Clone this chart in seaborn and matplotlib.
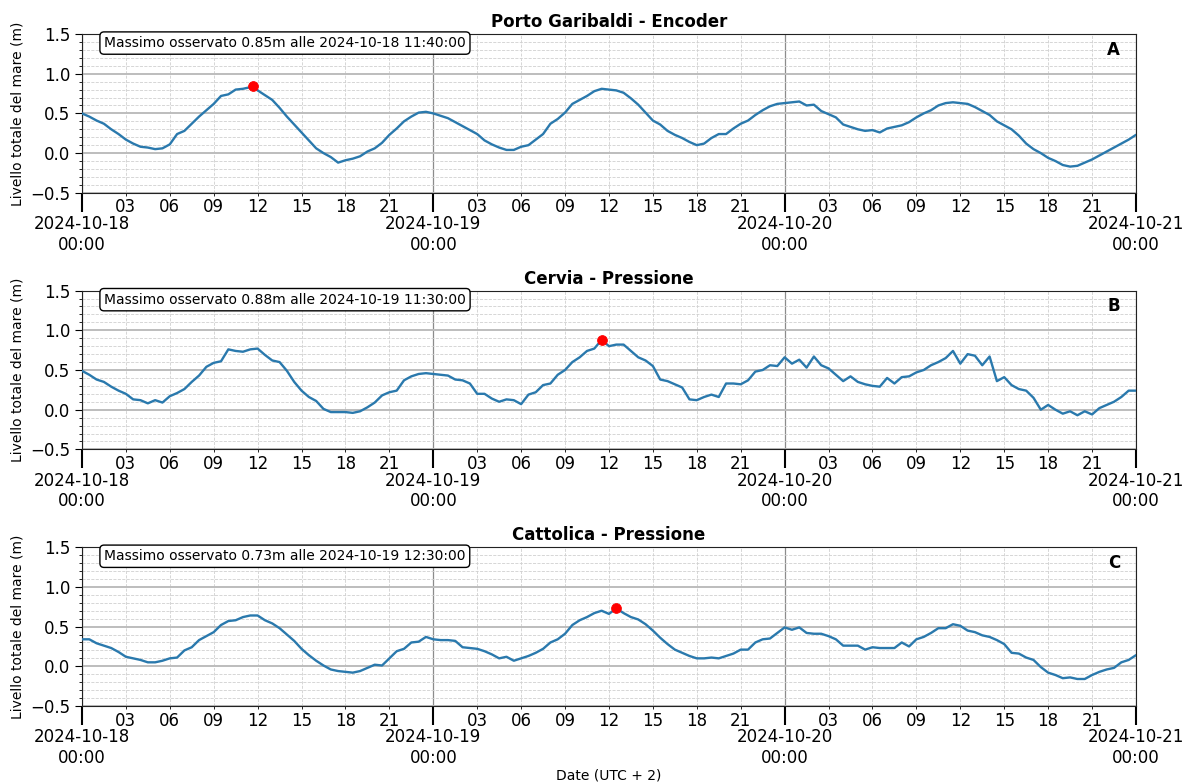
import matplotlib
matplotlib.use("Agg")
import pandas as pd
import matplotlib.pyplot as plt
import matplotlib.dates as mdates
from matplotlib.ticker import MultipleLocator
import seaborn as sns

sns.set_style("ticks")
plt.rcParams["font.family"] = ["DejaVu Sans"]
plt.rcParams.update({"text.color": "black", "axes.labelcolor": "black",
                     "xtick.color": "black", "ytick.color": "black",
                     "axes.edgecolor": "#222222"})

start = "2024-10-18 00:00"
end = "2024-10-21 00:00"

stations = ["Porto Garibaldi - Encoder", "Cervia - Pressione", "Cattolica - Pressione"]
panel_letters = ["A", "B", "C"]

# livello del mare ogni 30 minuti, dal 18/10 00:00 al 21/10 00:00 (una riga = 6 ore)
level_porto = [
    0.50, 0.46, 0.41, 0.37, 0.30, 0.24, 0.17, 0.12, 0.08, 0.07, 0.05, 0.06,
    0.11, 0.24, 0.28, 0.37, 0.46, 0.54, 0.62, 0.72, 0.74, 0.80, 0.81, 0.83,
    0.79, 0.73, 0.67, 0.57, 0.46, 0.36, 0.26, 0.16, 0.06, 0.00, -0.05, -0.12,
    -0.09, -0.07, -0.04, 0.02, 0.06, 0.13, 0.23, 0.31, 0.40, 0.46, 0.51, 0.52,
    0.50, 0.47, 0.44, 0.39, 0.34, 0.29, 0.24, 0.16, 0.11, 0.07, 0.04, 0.04,
    0.08, 0.10, 0.17, 0.24, 0.37, 0.43, 0.51, 0.62, 0.67, 0.72, 0.78, 0.81,
    0.80, 0.79, 0.76, 0.69, 0.61, 0.51, 0.41, 0.36, 0.28, 0.23, 0.19, 0.14,
    0.10, 0.12, 0.19, 0.24, 0.24, 0.31, 0.37, 0.41, 0.48, 0.54, 0.59, 0.62,
    0.63, 0.64, 0.65, 0.60, 0.61, 0.53, 0.49, 0.45, 0.36, 0.33, 0.30, 0.28,
    0.29, 0.26, 0.31, 0.33, 0.35, 0.39, 0.45, 0.50, 0.54, 0.60, 0.63, 0.64,
    0.63, 0.62, 0.58, 0.53, 0.48, 0.40, 0.35, 0.30, 0.22, 0.12, 0.05, 0.00,
    -0.06, -0.10, -0.15, -0.17, -0.16, -0.12, -0.08, -0.03, 0.02, 0.07, 0.12, 0.17,
    0.23,
]

level_cervia = [
    0.49, 0.44, 0.38, 0.35, 0.29, 0.24, 0.20, 0.13, 0.12, 0.08, 0.12, 0.09,
    0.17, 0.21, 0.26, 0.35, 0.43, 0.54, 0.59, 0.61, 0.76, 0.74, 0.73, 0.76,
    0.77, 0.69, 0.62, 0.60, 0.49, 0.35, 0.24, 0.16, 0.11, 0.01, -0.03, -0.03,
    -0.03, -0.04, -0.02, 0.03, 0.09, 0.18, 0.22, 0.24, 0.37, 0.42, 0.45, 0.46,
    0.45, 0.44, 0.43, 0.38, 0.37, 0.33, 0.20, 0.20, 0.14, 0.10, 0.13, 0.12,
    0.07, 0.19, 0.22, 0.31, 0.33, 0.44, 0.50, 0.60, 0.66, 0.74, 0.77, 0.88,
    0.80, 0.82, 0.82, 0.74, 0.66, 0.62, 0.55, 0.38, 0.36, 0.32, 0.28, 0.13,
    0.12, 0.16, 0.19, 0.16, 0.33, 0.33, 0.32, 0.37, 0.48, 0.50, 0.56, 0.55,
    0.66, 0.58, 0.63, 0.53, 0.67, 0.56, 0.52, 0.44, 0.36, 0.42, 0.35, 0.32,
    0.30, 0.29, 0.40, 0.33, 0.41, 0.42, 0.47, 0.50, 0.56, 0.60, 0.65, 0.74,
    0.58, 0.70, 0.68, 0.56, 0.67, 0.36, 0.41, 0.31, 0.26, 0.24, 0.15, 0.00,
    0.06, 0.00, -0.05, -0.02, -0.07, -0.02, -0.06, 0.02, 0.06, 0.10, 0.16, 0.24,
    0.24,
]

level_cattolica = [
    0.34, 0.34, 0.29, 0.26, 0.23, 0.18, 0.12, 0.10, 0.08, 0.05, 0.05, 0.07,
    0.10, 0.11, 0.20, 0.24, 0.33, 0.38, 0.43, 0.52, 0.57, 0.58, 0.62, 0.64,
    0.64, 0.58, 0.54, 0.48, 0.40, 0.32, 0.22, 0.14, 0.07, 0.01, -0.04, -0.06,
    -0.07, -0.08, -0.06, -0.02, 0.02, 0.01, 0.10, 0.19, 0.22, 0.30, 0.31, 0.37,
    0.34, 0.33, 0.33, 0.32, 0.24, 0.23, 0.22, 0.19, 0.15, 0.10, 0.12, 0.07,
    0.10, 0.13, 0.17, 0.22, 0.30, 0.34, 0.41, 0.52, 0.58, 0.62, 0.67, 0.70,
    0.66, 0.73, 0.67, 0.62, 0.59, 0.53, 0.45, 0.36, 0.28, 0.21, 0.17, 0.13,
    0.10, 0.10, 0.11, 0.10, 0.13, 0.16, 0.21, 0.21, 0.30, 0.34, 0.35, 0.42,
    0.49, 0.46, 0.49, 0.42, 0.41, 0.41, 0.38, 0.34, 0.26, 0.26, 0.26, 0.21,
    0.24, 0.23, 0.23, 0.23, 0.30, 0.25, 0.34, 0.37, 0.42, 0.48, 0.48, 0.53,
    0.51, 0.45, 0.43, 0.39, 0.37, 0.33, 0.28, 0.17, 0.16, 0.11, 0.08, -0.01,
    -0.08, -0.11, -0.15, -0.14, -0.16, -0.16, -0.11, -0.07, -0.04, -0.02, 0.05, 0.08,
    0.14,
]

# massimi osservati
peak_times = ["2024-10-18 11:40:00", "2024-10-19 11:30:00", "2024-10-19 12:30:00"]
peak_values = [0.85, 0.88, 0.73]

levels = [level_porto, level_cervia, level_cattolica]
line_color = "#2a79ad"

fig, axes = plt.subplots(3, 1, figsize=(11.91, 7.82), dpi=100)
fig.subplots_adjust(left=0.0688, right=0.9538, top=0.9565, bottom=0.0972, hspace=0.616)

for ax, station, letter, vals, pt, pv in zip(axes, stations, panel_letters, levels, peak_times, peak_values):
    times = pd.date_range(start, periods=len(vals), freq="30min")
    df = pd.DataFrame({"time": times, "level": vals})
    peak_ts = pd.Timestamp(pt)
    if peak_ts not in set(df["time"]):
        # the observed maximum falls between two samples: add it to the series
        df = pd.concat([df, pd.DataFrame({"time": [peak_ts], "level": [pv]})])
        df = df.sort_values("time").reset_index(drop=True)

    sns.lineplot(data=df, x="time", y="level", ax=ax, color=line_color, linewidth=1.7, zorder=3)
    sns.scatterplot(x=[peak_ts], y=[pv], ax=ax, color="red", edgecolor="red", s=50, zorder=5)

    ax.set_xlim(pd.Timestamp(start), pd.Timestamp(end))
    ax.set_ylim(-0.5, 1.5)

    ax.xaxis.set_major_locator(mdates.DayLocator())
    ax.xaxis.set_major_formatter(mdates.DateFormatter("%Y-%m-%d\n%H:%M"))
    ax.xaxis.set_minor_locator(mdates.HourLocator(byhour=range(3, 24, 3)))
    ax.xaxis.set_minor_formatter(mdates.DateFormatter("%H"))
    ax.yaxis.set_major_locator(MultipleLocator(0.5))
    ax.yaxis.set_minor_locator(MultipleLocator(0.1))

    ax.tick_params(axis="x", which="major", length=14, width=1.5, pad=2, labelsize=12)
    ax.tick_params(axis="x", which="minor", length=2, pad=2, labelsize=12)
    ax.tick_params(axis="y", which="major", length=5, labelsize=12)
    ax.tick_params(axis="y", which="minor", length=2.5)

    ax.grid(which="major", axis="y", color="#bdbdbd", linewidth=1.4, linestyle="-")
    ax.grid(which="major", axis="x", color="#8c8c8c", linewidth=0.9, linestyle="-")
    ax.grid(which="minor", color="#d0d0d0", linewidth=0.6, linestyle="--")
    ax.set_axisbelow(True)

    ax.set_title(station, fontweight="bold", fontsize=12, pad=5)
    ax.set_ylabel("Livello totale del mare (m)", fontsize=10)
    ax.set_xlabel("")

    ax.text(0.021, 0.943, f"Massimo osservato {pv:.2f}m alle {pt}", transform=ax.transAxes,
            ha="left", va="center", fontsize=10, zorder=6,
            bbox=dict(boxstyle="round,pad=0.3", facecolor="white", edgecolor="black"))
    ax.text(0.985, 0.90, letter, transform=ax.transAxes, ha="right", va="center",
            fontsize=12, fontweight="bold", zorder=6)

axes[-1].set_xlabel("Date (UTC + 2)", fontsize=10, labelpad=1)

plt.savefig("out.png", dpi=100)
